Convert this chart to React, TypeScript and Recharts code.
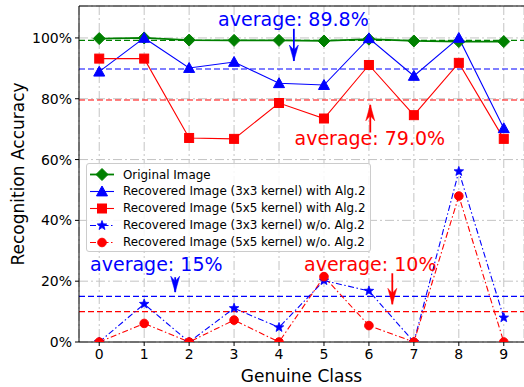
import React from 'react';
import {
  LineChart, Line, XAxis, YAxis, CartesianGrid, ReferenceLine, ReferenceDot,
} from 'recharts';

const classes = [0, 1, 2, 3, 4, 5, 6, 7, 8, 9];
const original = [99.8, 100, 99.3, 99.2, 99.2, 99.0, 99.6, 99.0, 98.8, 98.8];
const blueAlg = [88.9, 100, 90.1, 92.1, 85.1, 84.5, 99.9, 87.5, 100, 70.3];
const redAlg = [93.2, 93.2, 67.1, 66.8, 78.6, 73.5, 91.1, 74.6, 91.8, 66.8];
const blueNo = [0, 12.5, 0, 11.1, 4.8, 20.2, 16.8, 0, 56.1, 8.0];
const redNo = [0, 6.1, 0, 7.2, 0, 21.5, 5.4, 0, 48.0, 0];

const yTicks = [0, 20, 40, 60, 80, 100];
const averages = [
  { value: 99.2, color: '#008000' },
  { value: 89.8, color: '#0000ff' },
  { value: 79.6, color: '#ff0000' },
  { value: 15, color: '#0000ff' },
  { value: 10, color: '#ff0000' },
];
const annTexts = [
  { text: 'average: 89.8%', x: 4.32, y: 103.9, color: '#0000ff' },
  { text: 'average: 79.0%', x: 6.02, y: 64.8, color: '#ff0000' },
  { text: 'average: 15%', x: 1.27, y: 23.4, color: '#0000ff' },
  { text: 'average: 10%', x: 6.03, y: 23.4, color: '#ff0000' },
];
const arrows = [
  { x: 4.33, from: 103.0, to: 92.4, color: '#0000ff' },
  { x: 6.03, from: 68.9, to: 78.0, color: '#ff0000' },
  { x: 1.69, from: 21.3, to: 16.4, color: '#0000ff' },
  { x: 6.52, from: 22.6, to: 12.4, color: '#ff0000' },
];

const data = classes.map((c, i) => ({
  c,
  original: original[i],
  blueAlg: blueAlg[i],
  redAlg: redAlg[i],
  blueNo: blueNo[i],
  redNo: redNo[i],
}));

const FONT = 'DejaVu Sans, sans-serif';

type MarkerKind = 'diamond' | 'triangle' | 'square' | 'star' | 'circle';

function markerEl(kind: MarkerKind, cx: number, cy: number, color: string, key?: any) {
  if (kind === 'diamond') {
    const r = 6;
    return <polygon key={key} points={`${cx},${cy - r} ${cx + r},${cy} ${cx},${cy + r} ${cx - r},${cy}`} fill={color} stroke={color} strokeWidth={1} />;
  }
  if (kind === 'triangle') {
    const r = 5.5;
    return <polygon key={key} points={`${cx},${cy - r} ${cx + r},${cy + r * 0.8} ${cx - r},${cy + r * 0.8}`} fill={color} stroke={color} strokeWidth={1} />;
  }
  if (kind === 'square') {
    const r = 4.5;
    return <rect key={key} x={cx - r} y={cy - r} width={2 * r} height={2 * r} fill={color} stroke={color} strokeWidth={1} />;
  }
  if (kind === 'star') {
    const R = 5, rIn = 2.1;
    const pts: string[] = [];
    for (let k = 0; k < 10; k++) {
      const ang = -Math.PI / 2 + (k * Math.PI) / 5;
      const rr = k % 2 === 0 ? R : rIn;
      pts.push(`${cx + rr * Math.cos(ang)},${cy + rr * Math.sin(ang)}`);
    }
    return <polygon key={key} points={pts.join(' ')} fill={color} stroke={color} strokeWidth={0.8} />;
  }
  return <circle key={key} cx={cx} cy={cy} r={4.3} fill={color} stroke={color} strokeWidth={1} />;
}

const makeDot = (kind: MarkerKind, color: string) => (props: any) => {
  const { cx, cy, index } = props;
  if (cx == null || cy == null) return <g key={index} />;
  return markerEl(kind, cx, cy, color, index);
};

const series = [
  { key: 'original', name: 'Original Image', color: '#008000', kind: 'diamond' as MarkerKind, dash: undefined as string | undefined, width: 1.8 },
  { key: 'blueAlg', name: 'Recovered Image (3x3 kernel) with Alg.2', color: '#0000ff', kind: 'triangle' as MarkerKind, dash: undefined, width: 1.1 },
  { key: 'redAlg', name: 'Recovered Image (5x5 kernel) with Alg.2', color: '#ff0000', kind: 'square' as MarkerKind, dash: undefined, width: 1.1 },
  { key: 'blueNo', name: 'Recovered Image (3x3 kernel) w/o. Alg.2', color: '#0000ff', kind: 'star' as MarkerKind, dash: '6 2.5 1.5 2.5', width: 1.1 },
  { key: 'redNo', name: 'Recovered Image (5x5 kernel) w/o. Alg.2', color: '#ff0000', kind: 'circle' as MarkerKind, dash: '6 2.5 1.5 2.5', width: 1.1 },
];

const textShape = (text: string, color: string) => (p: any) => (
  <text x={p.cx} y={p.cy} textAnchor="middle" fill={color} fontSize={19} fontFamily={FONT}>{text}</text>
);

const arrowHead = (color: string, up: boolean) => (p: any) => {
  const { cx, cy } = p;
  const L = 16, W = 4.5, N = 11;
  const s = up ? 1 : -1;
  const pts = `${cx},${cy} ${cx - W},${cy + s * L} ${cx},${cy + s * N} ${cx + W},${cy + s * L}`;
  return <polygon points={pts} fill={color} stroke={color} strokeWidth={0.5} />;
};

const YLabel = (props: any) => {
  const vb = props.viewBox;
  const x = vb.x + 18;
  const y = vb.y + vb.height / 2;
  return (
    <text x={x} y={y} transform={`rotate(-90 ${x} ${y})`} textAnchor="middle" dominantBaseline="central" fontSize={17} fontFamily={FONT} fill="#000">
      Recognition Accuracy
    </text>
  );
};

function LegendBox() {
  return (
    <div style={{
      position: 'absolute', left: 86, top: 163, width: 285, height: 89,
      background: 'rgba(255,255,255,0.85)', border: '1px solid #cccccc', borderRadius: 3,
      boxSizing: 'border-box', fontFamily: FONT, fontSize: 11.9, color: '#000',
    }}>
      {series.map((s, i) => (
        <div key={s.key} style={{ position: 'absolute', left: 2, top: 2 + i * 16.9, height: 17, display: 'flex', alignItems: 'center', whiteSpace: 'nowrap' }}>
          <svg width={28} height={17} style={{ display: 'block' }}>
            <line x1={1} y1={8.5} x2={25} y2={8.5} stroke={s.color} strokeWidth={s.width} strokeDasharray={s.dash} />
            {markerEl(s.kind, 13, 8.5, s.color)}
          </svg>
          <span style={{ marginLeft: 6 }}>{s.name}</span>
        </div>
      ))}
    </div>
  );
}

export default function App() {
  return (
    <div style={{ position: 'absolute', left: 0, top: 0, width: 524, height: 387, background: '#fff' }}>
      <LineChart width={524} height={387} data={data} margin={{ top: 6, right: 0, bottom: 0, left: 0 }}>
        <CartesianGrid stroke="#c4c4c4" strokeDasharray="9 3 2 3" strokeWidth={1} />
        <XAxis
          dataKey="c" type="number" domain={[-0.45, 9.45]} ticks={classes} allowDataOverflow
          height={45} tickSize={4} tickMargin={3} stroke="#000"
          tick={{ fontSize: 14, fontFamily: FONT, fill: '#000' }}
          label={{ value: 'Genuine Class', position: 'insideBottom', offset: 5, fontSize: 17, fontFamily: FONT, fill: '#000' }}
        />
        <YAxis
          type="number" domain={[0, 110.5]} ticks={yTicks} allowDataOverflow width={79}
          tickSize={4} tickMargin={3} stroke="#000"
          tickFormatter={(v: number) => `${v}%`}
          tick={{ fontSize: 14, fontFamily: FONT, fill: '#000' }}
          label={<YLabel />}
        />
        <ReferenceLine y={110.5} stroke="#000" strokeWidth={1} ifOverflow="visible" />
        {averages.map((a, i) => (
          <ReferenceLine key={'avg' + i} y={a.value} stroke={a.color} strokeDasharray="6 3" strokeWidth={1.1} />
        ))}
        {series.map((s) => (
          <Line
            key={s.key} dataKey={s.key} name={s.name} stroke={s.color} strokeWidth={s.width}
            strokeDasharray={s.dash} dot={makeDot(s.kind, s.color)} activeDot={false}
            isAnimationActive={false} type="linear"
          />
        ))}
        {arrows.map((a, i) => (
          <ReferenceLine key={'ash' + i} segment={[{ x: a.x, y: a.from }, { x: a.x, y: a.to }]} stroke={a.color} strokeWidth={1.8} />
        ))}
        {arrows.map((a, i) => (
          <ReferenceDot key={'ahd' + i} x={a.x} y={a.to} shape={arrowHead(a.color, a.to > a.from)} />
        ))}
        {annTexts.map((t, i) => (
          <ReferenceDot key={'txt' + i} x={t.x} y={t.y} shape={textShape(t.text, t.color)} />
        ))}
      </LineChart>
      <LegendBox />
    </div>
  );
}
